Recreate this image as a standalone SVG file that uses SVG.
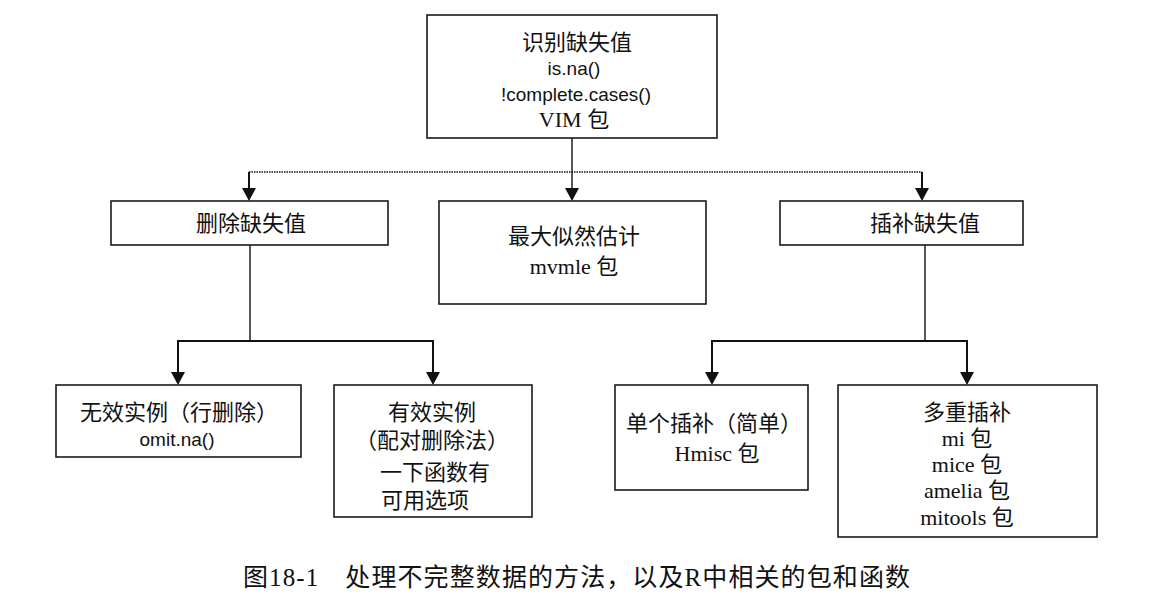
<svg xmlns="http://www.w3.org/2000/svg" width="1172" height="602" viewBox="0 0 1172 602">
<style>
.box{fill:#fff;stroke:#1a1a1a;stroke-width:1.6}
.cn{font-family:"Liberation Serif","Noto Sans CJK SC",serif;font-size:22px;fill:#111;text-anchor:middle}
.sa{font-family:"Liberation Sans",Arial,sans-serif;font-size:19px;fill:#111;text-anchor:middle}
.ln{fill:none;stroke:#111;stroke-width:2}
.thin{fill:none;stroke:#111;stroke-width:1.4}
.ah{fill:#111}
</style>
<rect width="1172" height="602" fill="#fff"/>
<g id="connectors">
<path class="thin" d="M572,138 V189"/>
<path class="thin" d="M249,172 H922" stroke-dasharray="1.5 1"/>
<path class="ln" d="M249,172 V189"/>
<path class="ln" d="M922,172 V189"/>
<path class="ah" d="M242,188 L256,188 L249,201 Z"/>
<path class="ah" d="M565,188 L579,188 L572,201 Z"/>
<path class="ah" d="M915,188 L929,188 L922,201 Z"/>
<path class="thin" d="M250,245 V341"/>
<path class="ln" d="M178,373 V341 H433 V373"/>
<path class="ah" d="M171,372 L185,372 L178,385 Z"/>
<path class="ah" d="M426,372 L440,372 L433,385 Z"/>
<path class="thin" d="M925,245 V341"/>
<path class="ln" d="M712,373 V341 H967 V373"/>
<path class="ah" d="M705,372 L719,372 L712,385 Z"/>
<path class="ah" d="M960,372 L974,372 L967,385 Z"/>
</g>
<g id="n-identify">
<rect class="box" x="427" y="15" width="290" height="123"/>
<text class="cn" x="577" y="50">识别缺失值</text>
<text class="sa" x="574" y="75">is.na()</text>
<text class="sa" x="576" y="101">!complete.cases()</text>
<text class="cn" x="574" y="127">VIM 包</text>
</g>
<g id="n-delete">
<rect class="box" x="111" y="201" width="277" height="44"/>
<text class="cn" x="251" y="231">删除缺失值</text>
</g>
<g id="n-ml">
<rect class="box" x="439" y="201" width="267" height="103"/>
<text class="cn" x="574" y="244">最大似然估计</text>
<text class="cn" x="574" y="274">mvmle 包</text>
</g>
<g id="n-impute">
<rect class="box" x="780" y="201" width="243" height="44"/>
<text class="cn" x="925" y="231">插补缺失值</text>
</g>
<g id="n-listwise">
<rect class="box" x="56" y="385" width="245" height="72"/>
<text class="cn" x="179" y="420">无效实例（行删除）</text>
<text class="sa" x="177" y="446">omit.na()</text>
</g>
<g id="n-pairwise">
<rect class="box" x="334" y="385" width="198" height="132"/>
<text class="cn" x="432" y="420">有效实例</text>
<text class="cn" x="432" y="448">（配对删除法）</text>
<text class="cn" x="435" y="480">一下函数有</text>
<text class="cn" x="425" y="508">可用选项</text>
</g>
<g id="n-single">
<rect class="box" x="615" y="385" width="193" height="105"/>
<text class="cn" x="714" y="431">单个插补（简单）</text>
<text class="cn" x="717" y="461">Hmisc 包</text>
</g>
<g id="n-multiple">
<rect class="box" x="838" y="385" width="259" height="152"/>
<text class="cn" x="967" y="420">多重插补</text>
<text class="cn" x="967" y="446">mi 包</text>
<text class="cn" x="967" y="472">mice 包</text>
<text class="cn" x="967" y="498">amelia 包</text>
<text class="cn" x="967" y="525">mitools 包</text>
</g>
<text x="243" y="586" textLength="667" lengthAdjust="spacing" style="font-family:'Liberation Serif','Noto Sans CJK SC',serif;font-size:25px;fill:#111">图18-1　处理不完整数据的方法，以及R中相关的包和函数</text>
</svg>
